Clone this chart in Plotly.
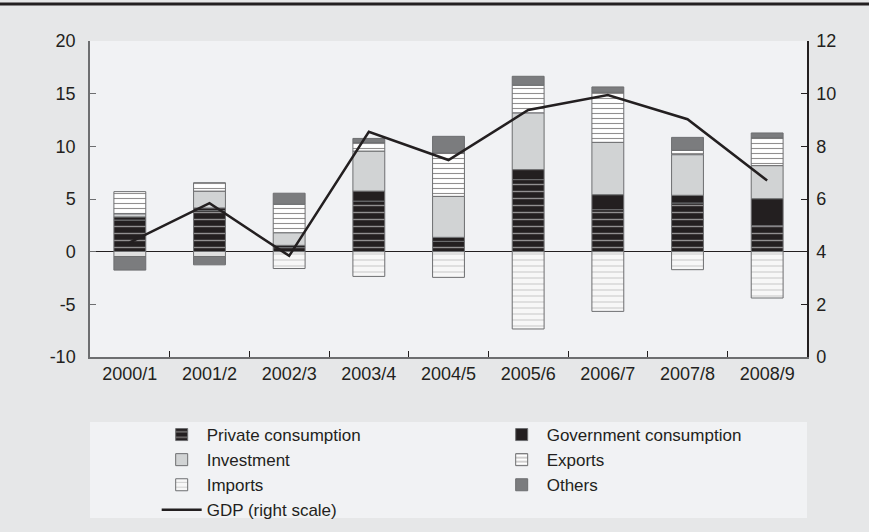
import plotly.graph_objects as go

periods = ["2000/1", "2001/2", "2002/3", "2003/4", "2004/5", "2005/6", "2006/7", "2007/8", "2008/9"]
private_consumption = [3.0, 3.9, 0.4, 4.8, 0.98, 6.84, 3.99, 4.62, 2.47]
government_consumption = [0.3, 0.25, 0.2, 0.95, 0.38, 0.95, 1.42, 0.73, 2.56]
investment = [0.3, 1.6, 1.2, 3.8, 3.89, 5.39, 4.97, 3.86, 3.14]
exports = [2.1, 0.8, 2.7, 0.8, 4.12, 2.62, 4.75, 0.41, 2.63]
imports = [-0.45, -0.45, -1.6, -2.35, -2.44, -7.34, -5.67, -1.71, -4.4]
others = [-1.3, -0.8, 1.05, 0.4, 1.58, 0.85, 0.51, 1.23, 0.47]
gdp = [4.35, 5.84, 3.84, 8.55, 7.48, 9.38, 9.95, 9.03, 6.7]

left_ticks = [-10, -5, 0, 5, 10, 15, 20]
right_ticks = [0, 2, 4, 6, 8, 10, 12]

BLACK = "#231f20"
OUTLINE = dict(color="#6d6e70", width=1)
FONT = "Liberation Sans, Arial, sans-serif"

fig = go.Figure()


def add_bar(name, values, color, pattern=None):
    marker = dict(color=color, line=OUTLINE)
    if pattern:
        marker["pattern"] = pattern
    fig.add_trace(go.Bar(x=periods, y=values, name=name, marker=marker, width=0.4))


add_bar("Private consumption", private_consumption, BLACK,
        dict(shape="-", fgcolor="white", bgcolor=BLACK, size=7, solidity=0.2))
add_bar("Government consumption", government_consumption, BLACK)
add_bar("Investment", investment, "#d1d3d4")
add_bar("Exports", exports, "white",
        dict(shape="-", fgcolor=BLACK, bgcolor="white", size=5, solidity=0.22))
add_bar("Imports", imports, "#f7f7f7",
        dict(shape="-", fgcolor="#555555", bgcolor="#f7f7f7", size=6, solidity=0.1))
add_bar("Others", others, "#7b7c7e")

fig.add_trace(go.Scatter(
    x=periods, y=gdp, name="GDP (right scale)", yaxis="y2",
    mode="lines", line=dict(color=BLACK, width=2.5),
))

# plot area: x 90..807, y 41..357 of an 869x532 page
pw, ph = 717, 316
fig.add_shape(type="line", xref="paper", yref="paper",
              x0=-90 / pw, x1=1 + 62 / pw, y0=1 + 37 / ph, y1=1 + 37 / ph,
              line=dict(color=BLACK, width=3))
fig.add_shape(type="rect", xref="paper", yref="paper", layer="below",
              x0=0, x1=1, y0=-(422 - 357) / ph, y1=-(518 - 357) / ph,
              fillcolor="#f1f2f4", line=dict(width=0))

fig.update_layout(
    width=869,
    height=532,
    barmode="relative",
    paper_bgcolor="#e6e7e8",
    plot_bgcolor="#f1f2f4",
    margin=dict(l=90, r=62, t=41, b=175, autoexpand=False),
    font=dict(family=FONT, size=18, color="#231f20"),
    showlegend=True,
    legend=dict(
        orientation="h",
        x=0.093, xanchor="left",
        yref="container", y=1 - 417 / 532, yanchor="top",
        entrywidth=285,
        bgcolor="rgba(0,0,0,0)",
        font=dict(size=17),
        itemwidth=40,
        traceorder="normal",
    ),
    xaxis=dict(
        showline=True, linecolor="#6d6e70", linewidth=1.5, mirror=False,
        ticks="inside", ticklen=6, tickson="boundaries", tickcolor="#231f20",
        showgrid=False,
    ),
    yaxis=dict(
        range=[-10, 20], tickvals=left_ticks, ticktext=[str(v) for v in left_ticks],
        showgrid=False, showline=True, linecolor="#6d6e70", linewidth=1.5,
        ticks="inside", ticklen=6, tickcolor="#6d6e70",
        zeroline=True, zerolinecolor=BLACK, zerolinewidth=1,
        ticklabelstandoff=9,
    ),
    yaxis2=dict(
        range=[0, 12], tickvals=right_ticks, overlaying="y", side="right",
        showgrid=False, showline=True, linecolor=BLACK, linewidth=1.5,
        ticks="inside", ticklen=6, tickcolor=BLACK, zeroline=False,
        ticklabelstandoff=4,
    ),
)

fig.write_html(
    "out.html",
    config={"displayModeBar": False},
    post_script="document.body.style.margin='0';",
)
